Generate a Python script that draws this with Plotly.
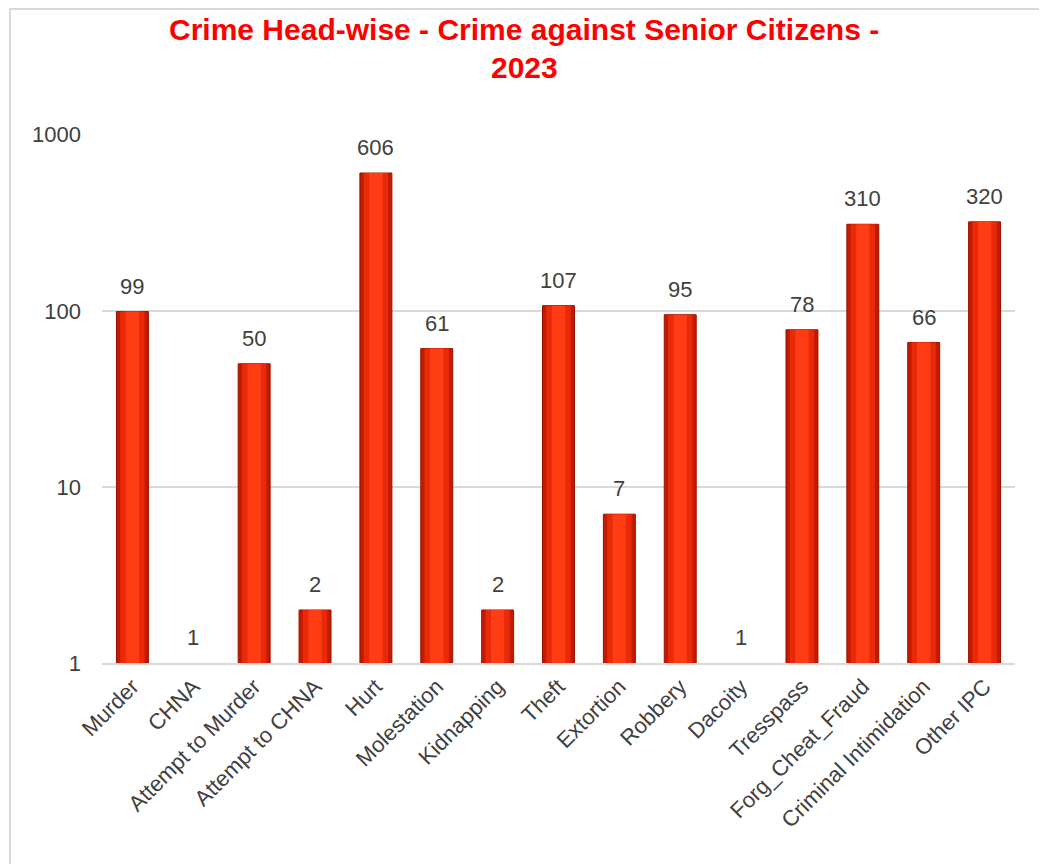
import math
import plotly.graph_objects as go

categories = ["Murder", "CHNA", "Attempt to Murder", "Attempt to CHNA", "Hurt",
              "Molestation", "Kidnapping", "Theft", "Extortion", "Robbery",
              "Dacoity", "Tresspass", "Forg_Cheat_Fraud", "Criminal Intimidation", "Other IPC"]
values = [99, 1, 50, 2, 606, 61, 2, 107, 7, 95, 1, 78, 310, 66, 320]
tick_vals = [1, 10, 100, 1000]
tick_text = ["1", "10", "100", "1000"]
title_lines = ["Crime Head-wise - Crime against Senior Citizens -", "2023"]

# page has an 8px body margin; figure coordinates are page - 8
W, H = 1039, 856
L, T = 94, 126
R = W - 1007
B = H - 655
pw, ph = W - L - R, H - T - B

FONT = "Liberation Sans, Arial, sans-serif"
TXT = "#404040"

fig = go.Figure()
# layered bars to imitate the shaded cylinder look
outline = ["rgba(0,0,0,0)" if v <= 1 else "#9a1000" for v in values]
for width, color, line in [(0.525, "#c41a00", dict(color=outline, width=1)),
                           (0.40, "#e82a08", dict(width=0)),
                           (0.22, "#ff3c14", dict(width=0))]:
    fig.add_trace(go.Bar(
        x=categories, y=values, width=width,
        marker=dict(color=color, line=line),
        hoverinfo="skip" if width < 0.5 else None,
    ))

annotations = []
for c, v in zip(categories, values):
    annotations.append(dict(
        x=c, y=math.log10(v), xref="x", yref="y",
        text=str(v), showarrow=False, yanchor="bottom", yshift=11,
        font=dict(family=FONT, size=22, color=TXT),
    ))

def fig_y_to_paper(y_top):
    return (H - y_top - B) / ph

def fig_x_to_paper(x_left):
    return (x_left - L) / pw

annotations.append(dict(
    x=fig_x_to_paper(516), y=fig_y_to_paper(22), xref="paper", yref="paper",
    text="<b>" + title_lines[0] + "</b>", showarrow=False,
    xanchor="center", yanchor="middle",
    font=dict(family=FONT, size=30, color="#ff0000"),
))
annotations.append(dict(
    x=fig_x_to_paper(516), y=fig_y_to_paper(60), xref="paper", yref="paper",
    text="<b>" + title_lines[1] + "</b>", showarrow=False,
    xanchor="center", yanchor="middle",
    font=dict(family=FONT, size=30, color="#ff0000"),
))

fig.update_layout(
    width=W, height=H,
    margin=dict(l=L, r=R, t=T, b=B),
    paper_bgcolor="white", plot_bgcolor="white",
    showlegend=False, barmode="overlay",
    xaxis=dict(
        tickangle=-45,
        tickfont=dict(family=FONT, size=22, color=TXT),
        showgrid=False, showline=True, linecolor="#d9d9d9", linewidth=2,
        ticks="",
    ),
    yaxis=dict(
        type="log", range=[0, 3.004],
        tickvals=tick_vals, ticktext=tick_text,
        tickfont=dict(family=FONT, size=22, color=TXT),
        showgrid=True, gridcolor="#d9d9d9", gridwidth=1.5,
        zeroline=False, showline=False, ticks="", ticklabelstandoff=20,
    ),
    annotations=annotations,
    shapes=[dict(
        type="rect", xref="paper", yref="paper",
        x0=fig_x_to_paper(2), x1=fig_x_to_paper(1035),
        y0=fig_y_to_paper(H + 20), y1=fig_y_to_paper(1),
        line=dict(color="#d9d9d9", width=2), fillcolor="rgba(0,0,0,0)",
        layer="below",
    )],
)

fig.write_html("out.html")
